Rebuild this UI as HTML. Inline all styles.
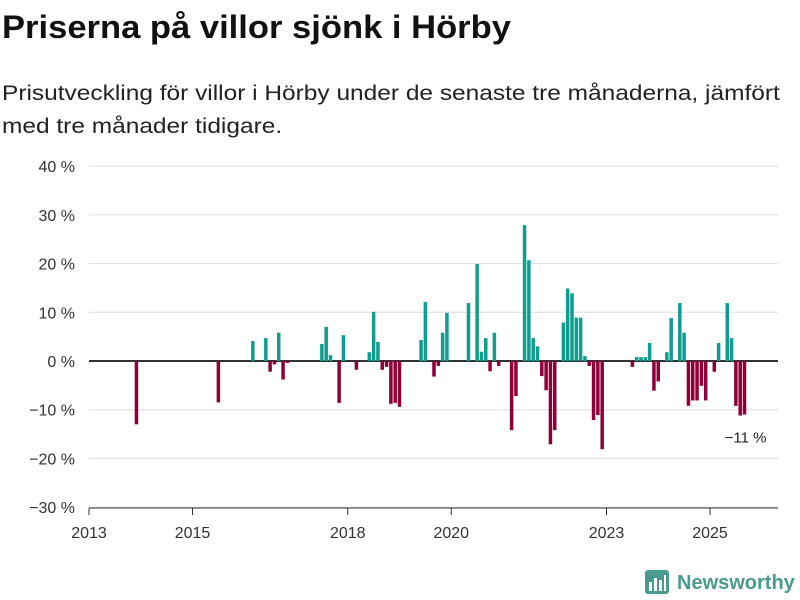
<!DOCTYPE html>
<html><head><meta charset="utf-8"><style>
body{margin:0;width:800px;height:600px;background:#fff;font-family:"Liberation Sans","DejaVu Sans",sans-serif;overflow:hidden;position:relative}
h1{position:absolute;left:2px;top:9px;margin:0;font-size:32px;font-weight:bold;color:#111;transform:scaleX(1.08);transform-origin:0 0;white-space:nowrap}
p{position:absolute;left:2px;top:77px;margin:0;font-size:21px;line-height:33px;color:#222;transform:scaleX(1.165);transform-origin:0 0;white-space:nowrap}
</style></head><body>
<h1>Priserna på villor sjönk i Hörby</h1>
<p>Prisutveckling för villor i Hörby under de senaste tre månaderna, jämfört<br>med tre månader tidigare.</p>
<svg id="chart" width="800" height="600" style="position:absolute;left:0;top:0" xmlns="http://www.w3.org/2000/svg"></svg>
<div style="position:absolute;left:645px;top:570px;display:flex;align-items:center">
<svg width="24" height="26"><rect x="0" y="0" width="24" height="24" rx="3" fill="#4a9b8f"/><rect x="4" y="12" width="3" height="9" fill="#fff"/><rect x="9" y="8" width="3" height="13" fill="#fff"/><rect x="14" y="10" width="3" height="11" fill="#fff"/><rect x="19" y="5" width="2" height="16" fill="#fff"/></svg>
<span style="margin-left:8px;font-size:20px;font-weight:bold;color:#4a9b8f">Newsworthy</span></div>
<script>
// month index since 2013-01
const months=[11,30,38,41,42,43,44,45,46,54,55,56,58,59,62,65,66,67,68,69,70,71,72,77,78,80,81,82,83,88,90,91,92,93,94,95,98,99,101,102,103,104,105,106,107,108,110,111,112,113,114,115,116,117,118,119,126,127,128,129,130,131,132,134,135,137,138,139,140,141,142,143,145,146,148,149,150,151,152];
const values=[-13,-8.5,4.1,4.7,-2.2,-0.7,5.8,-3.8,-0.4,3.5,7.0,1.2,-8.6,5.3,-1.8,1.8,10.1,3.9,-1.8,-1.2,-8.8,-8.6,-9.4,4.3,12.1,-3.2,-1.0,5.8,9.9,11.9,19.9,1.9,4.7,-2.1,5.8,-1.0,-14.2,-7.2,27.9,20.7,4.7,3.0,-3.1,-6.0,-17.1,-14.2,7.9,14.9,13.9,8.9,8.9,1.0,-1.0,-12.1,-11.1,-18.1,-1.2,0.8,0.8,0.8,3.7,-6.1,-4.2,1.8,8.8,11.9,5.8,-9.2,-8.1,-8.1,-5.1,-8.1,-2.2,3.7,11.9,4.7,-9.2,-11.2,-11];
const yTicks=[40,30,20,10,0,-10,-20,-30];
const xTickYears=[2013,2015,2018,2020,2023,2025];
const lastLabel="−11 %";
const svg=document.getElementById('chart');const NS='http://www.w3.org/2000/svg';
const y=v=>361-v*4.87;const xm=m=>89+m*51.75/12;
function mk(t,a){const e=document.createElementNS(NS,t);for(const k in a)e.setAttribute(k,a[k]);svg.appendChild(e);return e;}
yTicks.forEach(t=>{
 const l=mk('line',{x1:89,x2:778,y1:y(t),y2:y(t),stroke:t===0?'#333':'#ddd','stroke-width':t===0?2:1});
 
 
 const tx=mk('text',{x:75,y:y(t)+6,'text-anchor':'end','font-size':16,fill:'#333'});
 tx.textContent=(t<0?'−'+(-t):t)+' %';
 
 
});
const ax=mk('line',{x1:89,x2:778,y1:508,y2:508,stroke:'#333','stroke-width':1});


xTickYears.forEach(yr=>{
 const x=xm((yr-2013)*12);
 const tk=mk('line',{x1:x,x2:x,y1:508,y2:515,stroke:'#333'});
 
 
 const tx=mk('text',{x:x,y:538,'text-anchor':'middle','font-size':16,fill:'#333'});
 tx.textContent=yr;
 
 
});
months.forEach((m,i)=>{
 const v=values[i];const cx=xm(m);
 const r=mk('rect',{x:cx-1.75,width:3.5,y:Math.min(y(v),y(0)),height:Math.abs(y(v)-y(0)),fill:v>=0?'#0f9d8f':'#8f0039'});
 
 
});
const lm=months[months.length-1],lv=values[values.length-1];
const lt=mk('text',{x:xm(lm)+22,y:y(lv)+28,'text-anchor':'end','font-size':15,fill:'#222'});
lt.textContent=lastLabel;


</script>
</body></html>
